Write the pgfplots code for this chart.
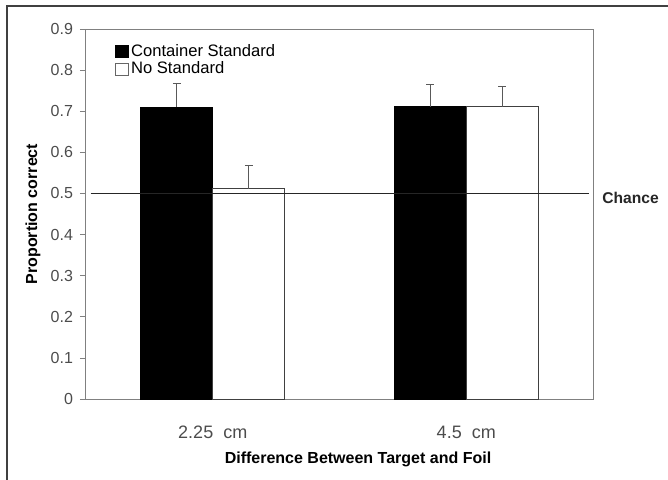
\documentclass[border=0pt]{standalone}
\usepackage{fontspec}
\setmainfont{Liberation Sans}
\usepackage{pgfplots}
\pgfplotsset{compat=1.18}
\definecolor{axgray}{gray}{0.5}
\definecolor{txtgray}{gray}{0.3}
\begin{document}
\begin{tikzpicture}
\useasboundingbox (-43pt,-40pt) rectangle (291pt,199.5pt);
\draw[black!75, line width=0.9pt] (-39.5pt,-45pt) -- (-39.5pt,196.5pt) -- (296pt,196.5pt);
\begin{axis}[
  at={(0pt,0pt)}, anchor=south west,
  scale only axis,
  width=253.5pt, height=185pt,
  ybar=0pt, bar width=36pt,
  xmin=-0.5, xmax=1.5, ymin=0, ymax=0.9,
  xtick={0,1}, xticklabels={2.25\ \ cm, 4.5\ \ cm},
  ytick={0,0.1,0.2,0.3,0.4,0.5,0.6,0.7,0.8,0.9},
  yticklabels={0,0.1,0.2,0.3,0.4,0.5,0.6,0.7,0.8,0.9},
  tick pos=left,
  tick align=outside,
  major tick length=3pt,
  x tick style={draw=none},
  y tick style={axgray, line width=0.4pt},
  axis line style={axgray, line width=0.5pt},
  yticklabel style={font=\fontsize{8}{9}\selectfont, text=txtgray},
  xticklabel style={font=\fontsize{9}{10}\selectfont, text=txtgray, yshift=-7pt},
  xlabel={Difference Between Target and Foil},
  ylabel={Proportion correct},
  xlabel style={font=\bfseries\fontsize{8}{9}\selectfont, at={(axis description cs:0.5365,-0.162)}, anchor=center},
  ylabel style={font=\bfseries\fontsize{8}{9}\selectfont, at={(axis description cs:-0.1045,0.5)}, anchor=center},
  legend style={at={(rel axis cs:0.057,0.965)}, anchor=north west, draw=none, fill=none,
    inner sep=0pt, row sep=-1pt, font=\fontsize{8.3}{9.5}\selectfont,
    nodes={inner sep=1pt}},
  legend cell align=left,
  clip=false,
]
\addplot[bar shift=-18pt, fill=black, draw=black, line width=0.4pt,
  legend image code/.code={\draw[fill=black, draw=black, line width=0.4pt] (0pt,-3pt) rectangle (6.5pt,3pt);},
  error bars/.cd, y dir=plus, y explicit,
  error bar style={black!65, line width=0.5pt},
  error mark options={rotate=90, mark size=2pt, black!65, line width=0.5pt}]
  coordinates {(0,0.710) +- (0,0.058) (1,0.711) +- (0,0.055)};
\addlegendentry{Container Standard}
\addplot[bar shift=18pt, fill=white, draw=black!75, line width=0.5pt,
  legend image code/.code={\draw[fill=white, draw=black!60, line width=0.4pt] (0pt,-3pt) rectangle (6.5pt,3pt);},
  error bars/.cd, y dir=plus, y explicit,
  error bar style={black!65, line width=0.5pt},
  error mark options={rotate=90, mark size=2pt, black!65, line width=0.5pt}]
  coordinates {(0,0.511) +- (0,0.057) (1,0.711) +- (0,0.050)};
\addlegendentry{No Standard}
\addplot[sharp plot, bar shift=0pt, black!85, line width=0.6pt, forget plot, mark=none]
  coordinates {(-0.482,0.5) (1.486,0.5)};
\node[anchor=base west, inner sep=0pt, font=\bfseries\fontsize{7.8}{9}\selectfont, text=black!85]
  at (axis cs:1.5,0.5) [xshift=4.5pt, yshift=-5pt] {Chance};
\end{axis}
\end{tikzpicture}
\end{document}
